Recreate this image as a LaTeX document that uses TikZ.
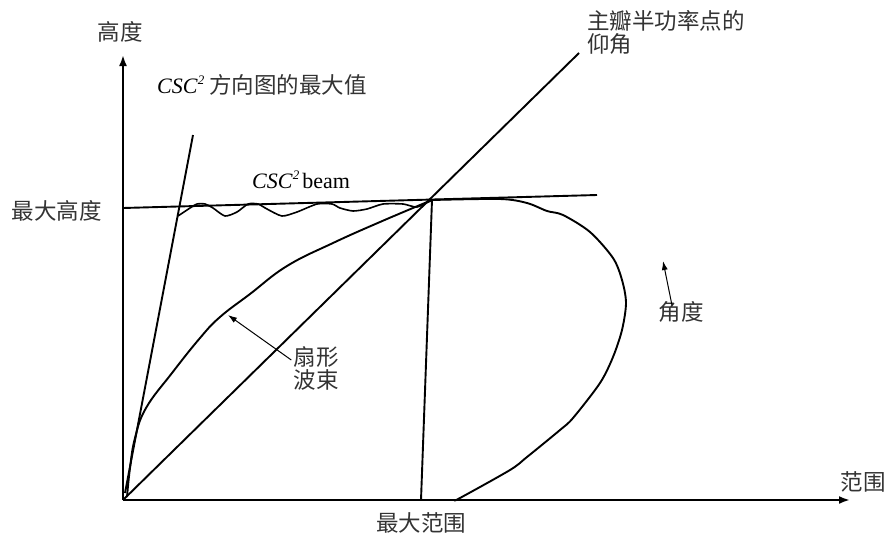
\documentclass[tikz,border=0pt]{standalone}
\usepackage{fontspec}
\setmainfont{Liberation Serif}
\newfontfamily\cjk{Noto Sans CJK SC}
\usetikzlibrary{arrows.meta}
\begin{document}
\begin{tikzpicture}[x=1pt,y=-1pt,
  cn/.style={font=\cjk\fontsize{22.5}{25}\selectfont, text=black!80, inner sep=0pt},
  ln/.style={font=\fontsize{22}{24}\selectfont, inner sep=0pt},
  thick line/.style={line width=1.9pt, line join=round},
  axis line/.style={line width=2.4pt, -{Latex[length=11pt,width=8pt]}},
  pointer/.style={line width=1pt, -{Latex[length=9pt,width=6pt]}}]
\useasboundingbox (0,0) rectangle (885,536);
% coordinates
\coordinate (O) at (123,500);
\coordinate (ytop) at (123,55);
\coordinate (xend) at (850,500);
\coordinate (P) at (432,200);
% axes
\draw[axis line] (O) -- (ytop);
\draw[axis line] (O) -- (xend);
% steep line
\coordinate (s1) at (125,493);
\coordinate (s2) at (193,135);
\draw[thick line] (s1) -- (s2);
% max height line
\coordinate (h1) at (123,208);
\coordinate (h2) at (597,195);
\draw[thick line] (h1) -- (h2);
% half-power diagonal
\coordinate (d2) at (579,53);
\draw[thick line] (O) -- (d2);
% vertical max range line
\coordinate (v1) at (421,500);
\draw[thick line] (P) -- (v1);
% fan beam curve
\draw[thick line] plot[smooth, tension=0.7] coordinates {(127,497) (130,468) (135,438) (146,408) (172,373) (200,338) (220,317) (250,294) (287,266) (333,243) (380,222) (432,200)};
% csc2 wavy portion
\draw[line width=1.6pt, line join=round] plot[smooth, tension=0.4] coordinates {(178,216) (190,208) (197,204) (205,204) (213,208) (225,216) (237,212) (248,204) (258,204) (267,209) (282,216) (297,212) (317,204) (332,204) (340,208) (353,211) (367,209) (383,204) (403,204) (417,207) (432,200)};
% lobe
\draw[thick line] plot[smooth, tension=0.5] coordinates {(432,200) (500,199) (527,203) (547,211) (563,215) (590,232) (613,258) (622,280) (626,303) (622,330) (613,357) (600,383) (573,418) (560,430) (527,457) (510,470) (460,498) (455,500)};
% labels
\node[cn] (lh) at (120,32) {高度};
\node[ln, anchor=base west] (lcsc) at (157,93) {\textit{CSC}\raisebox{9pt}{\fontsize{13}{13}\selectfont\textit{2}}\hspace{5pt}{\cjk\fontsize{22.5}{25}\selectfont\color{black!80}方向图的最大值}};
\node[ln, anchor=base west] (lbeam) at (252,188) {\textit{CSC}\raisebox{9pt}{\fontsize{13}{13}\selectfont\textit{2}}\hspace{3pt}beam};
\node[cn, anchor=east] (lmaxh) at (102,211) {最大高度};
\node[cn, anchor=north west, align=left] (lhalf) at (587,10) {主瓣半功率点的\\[-2pt]仰角};
\node[cn] (lang) at (681,312) {角度};
\node[cn, align=left] (lfan) at (316,368) {扇形\\[-2pt]波束};
\node[cn] (lmaxr) at (421,523) {最大范围};
\node[cn] (lrange) at (863,482) {范围};
% pointers
\coordinate (fantip) at (228,315);
\coordinate (angtip) at (663,261);
\draw[pointer] (lfan.west |- 0,360) ++(-2,0) -- (fantip);
\draw[pointer] ([xshift=-9pt,yshift=-4pt]lang.north) -- (angtip);
\end{tikzpicture}
\end{document}
